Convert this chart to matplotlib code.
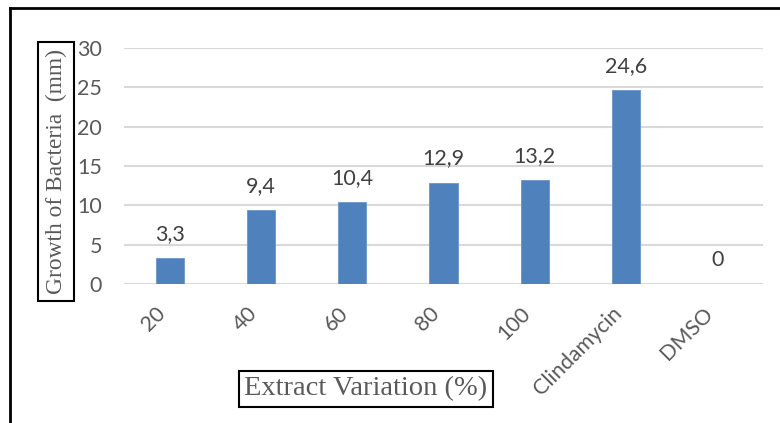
import matplotlib
matplotlib.use("Agg")
import matplotlib.pyplot as plt
from matplotlib.lines import Line2D

categories = ["20", "40", "60", "80", "100", "Clindamycin", "DMSO"]
growth = [3.3, 9.4, 10.4, 12.9, 13.2, 24.6, 0]
labels = ["3,3", "9,4", "10,4", "12,9", "13,2", "24,6", "0"]
yticks = [0, 5, 10, 15, 20, 25, 30]

plt.rcParams['font.family'] = ['Lato', 'DejaVu Sans']

fig = plt.figure(figsize=(7.8, 4.23), dpi=100)
ax = fig.add_axes([0.159, 0.3286, 0.819, 0.5579])

x = list(range(len(categories)))
ax.bar(x, growth, width=0.31, color='#4f81bd', edgecolor='#6a95c9', linewidth=0.6, zorder=3)

# value labels above the bars
for xi, val, lab in zip(x, growth, labels):
    ax.annotate(lab, (xi, val), xytext=(0, 13), textcoords='offset points',
                ha='center', va='baseline', fontsize=15.5, color='#404040')

ax.set_xlim(-0.5, len(categories) - 0.5)
ax.set_ylim(0, 30)
ax.set_yticks(yticks)
ax.yaxis.grid(True, color='#d9d9d9', linewidth=1.5, zorder=0)
ax.set_axisbelow(True)
for s in ['top', 'right', 'left', 'bottom']:
    ax.spines[s].set_visible(False)

ax.set_xticks(x)
ax.set_xticklabels(categories, rotation=45, ha='right', va='top')
ax.tick_params(axis='y', length=0, pad=16, labelsize=15.5, labelcolor='#595959')
ax.tick_params(axis='x', length=0, pad=14, labelsize=15.5, labelcolor='#595959')

# boxed axis titles
fig.text(56 / 780, 1 - 172 / 423, "Growth of Bacteria  (mm)", rotation=90,
         ha='center', va='center', family='Liberation Serif', fontsize=16.8,
         color='#595959', bbox=dict(boxstyle='square,pad=0.3', fc='white', ec='black', lw=1.5))
fig.text(366 / 780, 1 - 389 / 423, "Extract Variation (%)",
         ha='center', va='center', family='Liberation Serif', fontsize=20.5,
         color='#595959', bbox=dict(boxstyle='square,pad=0.2', fc='white', ec='black', lw=1.5))

# outer frame (top and left only)
fig.add_artist(Line2D([10 / 780, 10 / 780], [0, 1 - 8 / 423], color='black', lw=2,
                      transform=fig.transFigure))
fig.add_artist(Line2D([10 / 780, 1], [1 - 8 / 423, 1 - 8 / 423], color='black', lw=2,
                      transform=fig.transFigure))

fig.savefig("out.png", dpi=100)
